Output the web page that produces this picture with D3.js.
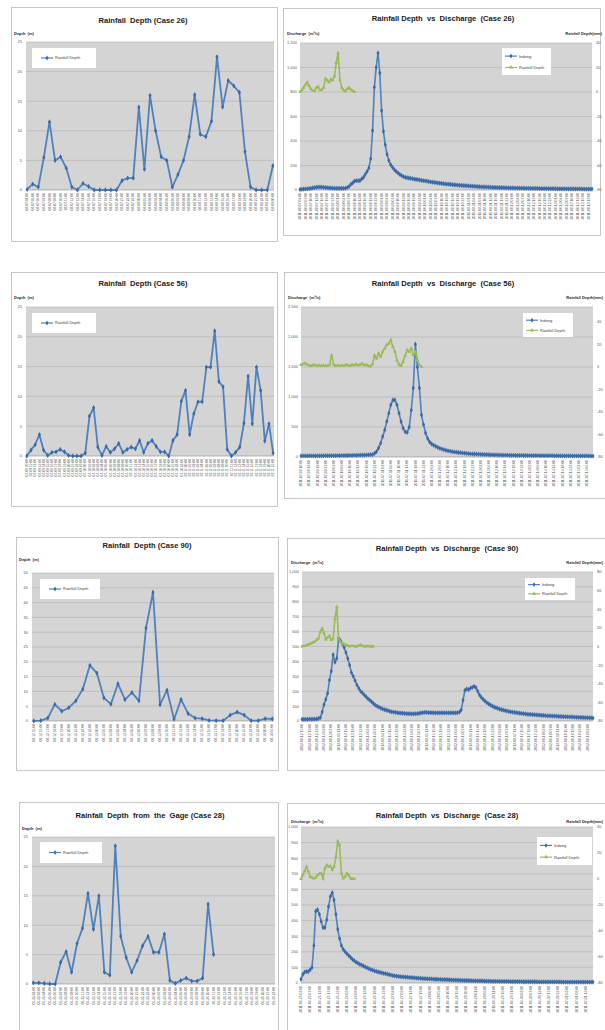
<!DOCTYPE html>
<html>
<head>
<meta charset="utf-8">
<script src="https://cdn.jsdelivr.net/npm/d3@7"></script>
<style>
  body { margin: 0; background: #fff; }
  svg text { font-family: "Liberation Sans", Arial, sans-serif; white-space: pre; }
</style>
</head>
<body>
<div id="main-canvas"></div>
<script>
// ------------ DATA ------------ //

// hourly rainfall depth (m) shown in the left column charts
const depthCase26 = [0.1,1.0,0.5,5.5,11.5,5.0,5.6,3.7,0.5,0.0,1.1,0.6,0,0,0,0,0,1.6,2.0,2.0,14.0,3.5,16.0,10.0,5.6,5.0,0.5,2.6,5.0,9.0,16.1,9.4,9.0,11.6,22.5,14.0,18.5,17.6,16.5,6.5,0.5,0,0,0,4.1];
const depthCase56 = [0,1.0,1.9,3.6,1.0,0.1,0.6,0.7,1.1,0.7,0.1,0,0,0,0.5,6.7,8.1,1.5,0.1,1.6,0.6,1.2,2.1,0.6,1.1,1.5,1.2,2.6,0.6,2.1,2.6,1.6,0.7,0.7,0,2.6,3.6,9.2,11.0,3.6,7.1,9.1,9.1,14.9,14.9,21.0,12.5,11.6,1.1,0,0.6,1.5,5.5,13.4,5.4,14.9,11.0,2.5,5.4,0.5];
const depthCase90 = [0,0.1,1.0,5.6,3.3,4.5,6.8,10.8,18.8,16.2,7.8,5.7,12.6,7.2,9.6,6.8,31.4,43.5,5.5,10.4,0.6,7.3,2.5,1.0,0.8,0.2,0.1,0.1,2.0,3.0,2.0,0.1,0.1,0.8,0.7];
const depthCase28 = [0.2,0.2,0.1,0,0,3.7,5.5,2.0,6.9,9.5,15.4,9.3,15.0,2.0,1.5,23.5,8.1,4.5,2.0,4.0,6.5,8.1,5.4,5.4,8.5,0.6,0.1,0.6,1.0,0.5,0.5,1.0,13.6,5.0];

// hourly discharge (m3/s) at Indong, right column charts
const flowCase26 = [5,6,8,9,10,12,14,17,20,22,
  24,24,23,22,20,19,17,16,15,14,
  14,14,14,14,14,14,20,28,45,57,
  72,76,76,76,90,103,128,152,180,256,
  485,838,1001,1118,955,648,479,370,290,240,
  207,185,166,152,139,128,118,110,104,100,
  98,95,92,89,86,84,81,79,76,74,
  72,69,67,64,62,60,58,56,54,52,
  50,48,47,45,44,42,41,39,38,37,
  36,35,34,33,32,31,30,29,28,27,
  26,25,25,24,23,23,22,21,21,20,
  20,19,19,18,18,17,17,17,16,16,
  16,15,15,15,14,14,14,14,13,13,
  13,13,12,12,12,12,12,11,11,11,
  11,11,10,10,10,10,10,10,9,9,
  9,9,9,9,9,9,8,8,8,8,8,8];
const flowCase56 = [18,18,18,18,19,19,19,19,20,20,
  20,20,21,21,21,22,22,22,23,23,
  24,24,25,25,26,27,28,29,30,31,
  32,33,34,36,38,40,60,90,150,230,
  340,450,590,730,870,950,950,870,730,590,
  480,420,410,500,780,1150,1880,1500,1150,700,
  540,400,310,250,217,195,178,160,145,133,
  122,112,104,97,90,85,80,75,71,67,
  63,60,57,54,52,50,48,46,44,43,
  41,40,38,37,36,35,34,33,32,31,
  30,30,29,28,28,27,27,26,26,25,
  25,24,24,24,23,23,23,22,22,22,
  22,21,21,21,20,20,20,20,19,19,
  19,19,18,18,18,18,18,17,17,17,
  17,17,16,16];
const flowCase90 = [11,11,11,11,12,12,12,13,14,16,
  22,60,110,145,186,275,335,445,395,420,
  555,540,520,495,460,420,375,325,300,271,
  242,220,200,188,175,163,150,140,130,118,
  107,100,93,87,81,77,73,69,65,62,
  60,58,56,54,53,52,51,50,49,49,
  48,48,49,50,52,54,56,58,58,57,
  56,56,55,55,55,55,55,55,55,55,
  55,55,55,55,55,56,60,75,140,205,
  215,210,220,225,232,225,200,175,158,145,
  133,123,115,107,100,94,89,84,80,76,
  73,70,67,64,62,60,58,56,54,52,
  51,49,48,46,45,44,43,42,41,40,
  39,38,37,36,35,35,34,33,33,32,
  31,31,30,29,29,28,28,27,27,26,
  25,25,24,24,23,22,22,21,21,20];
const flowCase28 = [24,55,70,73,73,85,100,240,460,470,
  440,395,355,355,405,490,555,579,532,440,
  345,285,240,215,201,188,176,165,152,143,
  134,127,120,115,109,103,97,92,86,82,
  78,74,71,68,65,62,60,57,54,51,
  48,46,44,43,41,40,39,38,37,36,
  35,34,33,32,31,30,29,28,28,27,
  26,26,25,24,24,23,23,22,22,21,
  21,20,20,19,19,18,18,17,17,16,
  16,16,15,15,14,14,14,13,13,13,
  12,12,12,12,11,11,11,11,10,10,
  10,10,10,10,9,9,9,9,9,9,
  9,8,8,8,8,8,8,8,8,7,
  7,7,7,7,7,7,7,7,7,7,
  7,7,6,6,6,6,6,6,6,6,
  6,6,6,6,6,6,6,6,6,6];

// hourly rainfall depth (mm) plotted on the secondary axis
const rainCase26 = [0,1.4,3.5,6,8,5,2.5,1.2,0.8,3.5,4.4,1.4,2,3.5,11,9.5,8,10.4,9.5,13,24,32,10,3.5,1.5,0.5,2.5,3.5,2.2,0.8,0];
const rainCase56 = [1.8,2.5,3.5,2.0,1.5,1.0,2.0,1.5,1.0,1.5,
  1.0,1.5,1.0,1.0,2.0,10.5,2.0,1.0,1.5,1.0,
  1.5,1.0,2.0,1.5,1.0,2.0,1.5,2.5,1.5,2.0,
  3.0,1.5,2.0,1.0,0.5,2.5,10.5,7.7,12.1,9.2,
  13.6,16.6,19.6,21.0,24.0,18.0,13.6,6.0,2.0,0.9,
  4.7,10.0,15.1,13.6,16.6,10.7,13.6,6.2,1.8,0];
const rainCase90 = [0,0.5,1,1.6,2.5,3.4,4.3,5.2,7,8.8,
  15.9,19.5,14.1,7.7,9.8,11.3,7,8.8,30,42.8,
  8,5.2,3.4,2.5,1.6,0.8,0,0.5,0.5,0,
  0,1.0,1.6,0.5,0,0,0.5,0,0,0];
const rainCase28 = [0,3,6,9.5,6,1.8,1,0.5,1,3,
  4,4.4,0.5,8.2,10.8,9.5,10,7,9.5,17,
  29,26,4.4,0.5,1.8,4.4,3,0.5,0,0];

// axis ticks
const depthTicks25 = [0,5,10,15,20,25];
const depthTicks50 = [0,5,10,15,20,25,30,35,40,45,50];
const flowTicks26 = [0,200,400,600,800,1000,1200];
const flowTicks56 = [0,500,1000,1500,2000,2500];
const flowTicks100 = [0,100,200,300,400,500,600,700,800,900,1000];
const rainTicks40 = [-80,-60,-40,-20,0,20,40];
const rainTicks80 = [-80,-60,-40,-20,0,20,40,60,80];

// first time stamp of each record (category labels run hourly from here)
const startCase26 = "2011-08-07 04:00";
const startCase56 = "2011-07-09 10:00";
const startCase90 = "2012-08-12 15:00";
const startCase28 = "2011-06-25 02:00";

// ------------ SET UP ------------ //

const blue = "#4f81bd", blueDark = "#3a6aa6", green = "#9bbb59";
const plotFill = "#d4d4d4", gridColor = "#b0b0b0", tickColor = "#595959";
const parseTime = d3.timeParse("%Y-%m-%d %H:%M");

let svg = d3.select("#main-canvas").append("svg")
    .attr("width", 605)
    .attr("height", 1030);

// white chart area with thin grey border
function drawFrame(f) {
    svg.append("rect")
        .attr("x", f[0] + 0.5).attr("y", f[1] + 0.5)
        .attr("width", f[2]).attr("height", f[3])
        .attr("fill", "#fff")
        .attr("stroke", "#b8b8b8")
        .attr("stroke-width", 0.8)
}

function plotBackground(g, p, y, ticks) {
    g.append("rect")
        .attr("x", p[0]).attr("y", p[1])
        .attr("width", p[2] - p[0]).attr("height", p[3] - p[1])
        .attr("fill", plotFill)
    g.append("g").selectAll("line")
        .data(ticks.slice(1))
        .enter().append("line")
        .attr("x1", p[0]).attr("x2", p[2])
        .attr("y1", d => y(d)).attr("y2", d => y(d))
        .attr("stroke", gridColor).attr("stroke-width", 0.6)
    g.append("line")
        .attr("x1", p[0]).attr("x2", p[2]).attr("y1", p[3]).attr("y2", p[3])
        .attr("stroke", "#8c8c8c").attr("stroke-width", 0.6)
}

function yTickLabels(g, x, anchor, y, ticks, fmt) {
    g.append("g").selectAll("text")
        .data(ticks)
        .enter().append("text")
        .attr("x", x)
        .attr("y", d => y(d) + 1.4)
        .attr("text-anchor", anchor)
        .attr("font-size", "4px")
        .attr("fill", tickColor)
        .text(fmt)
}

function xTickLabels(g, items, xPos, yTop, fmt, size) {
    g.append("g").selectAll("text")
        .data(items)
        .enter().append("text")
        .attr("transform", d => "translate(" + (xPos(d) + 1.2) + "," + yTop + ") rotate(-90)")
        .attr("text-anchor", "end")
        .attr("font-size", size + "px")
        .attr("fill", tickColor)
        .text(fmt)
}

function legendEntry(g, x, y, color, symbol, label) {
    g.append("line")
        .attr("x1", x).attr("x2", x + 12).attr("y1", y).attr("y2", y)
        .attr("stroke", color).attr("stroke-width", 1.2)
    g.append("path")
        .attr("d", d3.symbol(symbol, 7)())
        .attr("transform", "translate(" + (x + 6) + "," + y + ")")
        .attr("fill", color === green ? green : blueDark)
    g.append("text")
        .attr("x", x + 14).attr("y", y + 1.4)
        .attr("font-size", "4px").attr("fill", "#404040")
        .text(label)
}

// ------------ LEFT COLUMN: rainfall depth ------------ //

function drawDepthChart(c) {
    drawFrame(c.frame);
    let g = svg.append("g");
    let p = c.plot;
    let x = d3.scalePoint().domain(d3.range(c.slots)).range([p[0], p[2]]).padding(c.pad);
    let y = d3.scaleLinear().domain([0, d3.max(c.ticks)]).range([p[3], p[1]]);

    plotBackground(g, p, y, c.ticks);
    yTickLabels(g, p[0] - 4, "end", y, c.ticks, d => d);

    let t0 = parseTime(c.start);
    let fmt = d3.timeFormat("%m-%d %H:%M");
    xTickLabels(g, d3.range(c.slots), x, p[3] + 3, i => fmt(d3.timeHour.offset(t0, i)), 3.3);

    let line = d3.line().x((d, i) => x(i)).y(d => y(d));
    g.append("path")
        .datum(c.values)
        .attr("d", line)
        .attr("fill", "none")
        .attr("stroke", blue)
        .attr("stroke-width", 1.8)
        .attr("stroke-linejoin", "round")
    g.append("g").selectAll("path")
        .data(c.values)
        .enter().append("path")
        .attr("d", d3.symbol(d3.symbolDiamond, 8)())
        .attr("transform", (d, i) => "translate(" + x(i) + "," + y(d) + ")")
        .attr("fill", blueDark)

    g.append("text")
        .attr("x", c.titleX).attr("y", c.titleY)
        .attr("text-anchor", "middle")
        .attr("font-size", "7.6px").attr("font-weight", "bold").attr("fill", "#1a1a1a")
        .text(c.title)
    g.append("text")
        .attr("x", c.frame[0] + 3).attr("y", c.labelY)
        .attr("font-size", "4px").attr("font-weight", "bold").attr("fill", "#262626")
        .text("Depth  (m)")

    let lb = c.legend;
    g.append("rect")
        .attr("x", lb[0]).attr("y", lb[1]).attr("width", lb[2]).attr("height", lb[3])
        .attr("fill", "#fff")
    legendEntry(g, lb[0] + 9, lb[1] + lb[3] / 2, blue, d3.symbolDiamond, "Rainfall Depth");
}

// ------------ RIGHT COLUMN: rainfall vs discharge ------------ //

function drawFlowChart(c) {
    drawFrame(c.frame);
    let g = svg.append("g");
    let p = c.plot;
    let x = d3.scaleLinear().domain([0, c.flow.length - 1]).range([p[0], p[2]]);
    let yQ = d3.scaleLinear().domain([0, d3.max(c.flowTicks)]).range([p[3], p[1]]);
    let yR = d3.scaleLinear().domain(c.rainDomain).range([p[3], p[1]]);

    plotBackground(g, p, yQ, c.flowTicks);
    yTickLabels(g, p[0] - 3, "end", yQ, c.flowTicks, d3.format(","));
    yTickLabels(g, p[2] + 4, "start", yR, c.rainTicks, d => d);

    let t0 = parseTime(c.start);
    let fmt = d3.timeFormat("%Y-%m-%d %H:%M");
    let hours = d3.range(0, c.flow.length, c.labelStep);
    xTickLabels(g, hours, x, p[3] + 3, h => fmt(d3.timeHour.offset(t0, h)), 3.4);

    // discharge on the primary axis
    g.append("path")
        .datum(c.flow)
        .attr("d", d3.line().x((d, i) => x(i)).y(d => yQ(d)))
        .attr("fill", "none")
        .attr("stroke", blue)
        .attr("stroke-width", 1.6)
    g.append("g").selectAll("path")
        .data(c.flow)
        .enter().append("path")
        .attr("d", d3.symbol(d3.symbolDiamond, 8)())
        .attr("transform", (d, i) => "translate(" + x(i) + "," + yQ(d) + ")")
        .attr("fill", blueDark)

    // rainfall on the secondary axis
    g.append("path")
        .datum(c.rain)
        .attr("d", d3.line().x((d, i) => x(i)).y(d => yR(d)))
        .attr("fill", "none")
        .attr("stroke", green)
        .attr("stroke-width", 1.6)
    g.append("g").selectAll("path")
        .data(c.rain)
        .enter().append("path")
        .attr("d", d3.symbol(d3.symbolTriangle, 6)())
        .attr("transform", (d, i) => "translate(" + x(i) + "," + yR(d) + ")")
        .attr("fill", green)

    g.append("text")
        .attr("x", c.titleX).attr("y", c.titleY)
        .attr("text-anchor", "middle")
        .attr("font-size", "7.6px").attr("font-weight", "bold").attr("fill", "#1a1a1a")
        .text(c.title)
    g.append("text")
        .attr("x", c.frame[0] + 4).attr("y", c.labelY)
        .attr("font-size", "4px").attr("font-weight", "bold").attr("fill", "#262626")
        .text("Discharge  (m³/s)")
    g.append("text")
        .attr("x", p[2] + 10).attr("y", c.labelY)
        .attr("text-anchor", "end")
        .attr("font-size", "4px").attr("font-weight", "bold").attr("fill", "#262626")
        .text("Rainfall Depth(mm)")

    let lb = c.legend;
    g.append("rect")
        .attr("x", lb[0]).attr("y", lb[1]).attr("width", lb[2]).attr("height", lb[3])
        .attr("fill", "#fff")
    legendEntry(g, lb[0] + 3, lb[1] + lb[3] * 0.3, blue, d3.symbolDiamond, "Indong");
    legendEntry(g, lb[0] + 3, lb[1] + lb[3] * 0.72, green, d3.symbolTriangle, "Rainfall Depth");
}

// ------------ CHARTS ------------ //

drawDepthChart({ frame: [11, 7, 266, 234], plot: [26, 42, 274, 190], pad: 0.2,
    values: depthCase26, slots: depthCase26.length, ticks: depthTicks25, start: startCase26,
    title: "Rainfall  Depth (Case 26)", titleX: 143, titleY: 23, labelY: 35, legend: [32, 48, 64, 20] });
drawDepthChart({ frame: [11, 272, 266, 234], plot: [26, 307, 274, 456], pad: 0.2,
    values: depthCase56, slots: depthCase56.length, ticks: depthTicks25, start: startCase56,
    title: "Rainfall  Depth (Case 56)", titleX: 143, titleY: 286, labelY: 299, legend: [32, 313, 64, 20] });
drawDepthChart({ frame: [16, 537, 262, 233], plot: [32, 573, 274, 721], pad: 0.25,
    values: depthCase90, slots: depthCase90.length, ticks: depthTicks50, start: startCase90,
    title: "Rainfall  Depth (Case 90)", titleX: 147, titleY: 548, labelY: 561, legend: [40, 579, 60, 20] });
drawDepthChart({ frame: [19, 802, 259, 240], plot: [32, 837, 275, 984], pad: 0.25,
    values: depthCase28, slots: 45, ticks: depthTicks25, start: startCase28,
    title: "Rainfall  Depth  from  the  Gage (Case 28)", titleX: 150, titleY: 818, labelY: 830, legend: [40, 842, 62, 21] });

drawFlowChart({ frame: [283, 8, 317, 227], plot: [300, 43, 592, 190],
    flow: flowCase26, rain: rainCase26, flowTicks: flowTicks26, rainTicks: rainTicks40, rainDomain: [-80, 40],
    start: startCase26, labelStep: 3,
    title: "Rainfall Depth  vs  Discharge  (Case 26)", titleX: 443, titleY: 21, labelY: 35, legend: [502, 48, 49, 27] });
drawFlowChart({ frame: [284, 272, 325, 226], plot: [301, 307, 593, 457],
    flow: flowCase56, rain: rainCase56, flowTicks: flowTicks56, rainTicks: rainTicks40, rainDomain: [-80, 53.3],
    start: startCase56, labelStep: 4,
    title: "Rainfall Depth  vs  Discharge  (Case 56)", titleX: 443, titleY: 286, labelY: 299, legend: [523, 313, 50, 24] });
drawFlowChart({ frame: [287, 538, 325, 232], plot: [302, 572, 593, 721],
    flow: flowCase90, rain: rainCase90, flowTicks: flowTicks100, rainTicks: rainTicks80, rainDomain: [-80, 80],
    start: startCase90, labelStep: 4,
    title: "Rainfall Depth  vs  Discharge  (Case 90)", titleX: 447, titleY: 551, labelY: 564, legend: [525, 578, 50, 22] });
drawFlowChart({ frame: [287, 803, 325, 240], plot: [301, 827, 593, 983],
    flow: flowCase28, rain: rainCase28, flowTicks: flowTicks100, rainTicks: rainTicks40, rainDomain: [-80, 40],
    start: startCase28, labelStep: 5,
    title: "Rainfall Depth  vs  Discharge  (Case 28)", titleX: 447, titleY: 818, labelY: 823, legend: [537, 837, 55, 28] });
</script>
</body>
</html>
